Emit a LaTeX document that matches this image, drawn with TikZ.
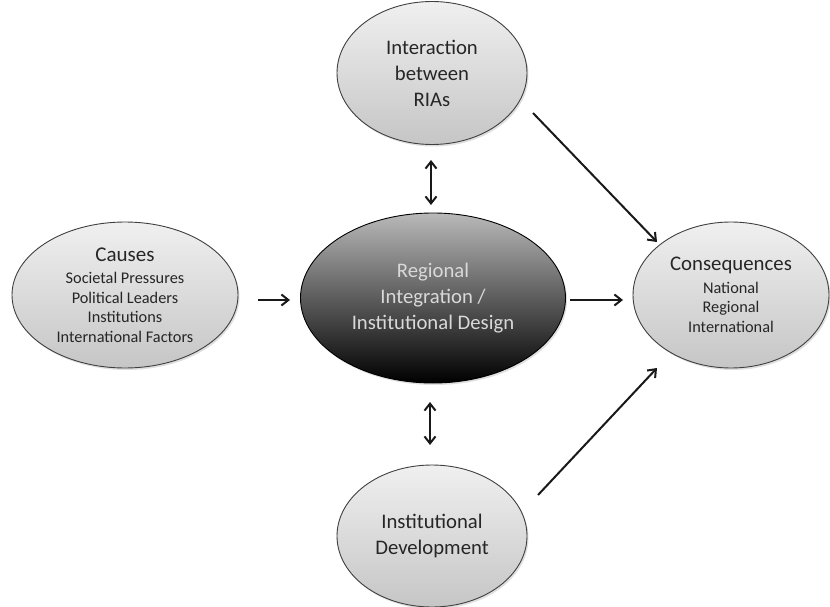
\documentclass[tikz,border=0pt]{standalone}
\usepackage{fontspec}
\setmainfont{Carlito}
\usetikzlibrary{shapes.geometric,arrows.meta,calc,shadows}
\begin{document}
\begin{tikzpicture}[x=1pt,y=-1pt,
  bubble/.style={ellipse,draw=black!75,line width=0.9pt,inner sep=0pt,
    top color=gray!12,bottom color=gray!45,
    drop shadow={opacity=0.25,shadow xshift=1.5pt,shadow yshift=-2pt},
    align=center,text=black!85},
  core/.style={ellipse,draw=black,line width=0.9pt,inner sep=0pt,
    top color=gray!55,bottom color=black,
    drop shadow={opacity=0.25,shadow xshift=1.5pt,shadow yshift=-2pt},
    align=center,text=gray!30},
  arr/.style={-{Straight Barb[length=7pt,width=11pt,line width=2pt]},line width=2pt,black!90},
  darr/.style={{Straight Barb[length=7pt,width=11pt,line width=2pt]}-{Straight Barb[length=7pt,width=11pt,line width=2pt]},line width=2pt,black!90},
  big/.style={font=\fontsize{20.7}{26}\selectfont},
  small/.style={font=\fontsize{16.3}{19.5}\selectfont}]
\useasboundingbox (0,0) rectangle (830,607);
\fill[white] (0,0) rectangle (830,607);

\node[bubble,big,minimum width=190pt,minimum height=143pt] (top) at (432,73)
  {Interaction\\between\\RIAs};
\node[bubble,small,minimum width=226pt,minimum height=146pt] (causes) at (125,295)
  {{\fontsize{21}{23}\selectfont Causes}\\[3pt]Societal Pressures\\Political Leaders\\Institutions\\International Factors};
\node[core,big,minimum width=265pt,minimum height=170pt] (core) at (433,298)
  {Regional\\Integration /\\Institutional Design};
\node[bubble,small,minimum width=196pt,minimum height=146pt] (cons) at (731,295)
  {{\fontsize{20.8}{22}\selectfont Consequences}\\[3pt]National\\Regional\\International};
\node[bubble,big,minimum width=190pt,minimum height=142pt] (bot) at (432,536)
  {Institutional\\Development};

\draw[arr] ($(causes.center)+(133,5)$) -- ($(core.center)+(-143,2)$);
\draw[arr] ($(core.center)+(137,2)$) -- ($(cons.center)+(-108,5)$);
\draw[darr] ($(top.center)+(-1,87)$) -- ($(core.center)+(-2,-93)$);
\draw[darr] ($(core.center)+(-3,104)$) -- ($(bot.center)+(-2,-91)$);
\draw[arr] ($(top.center)+(101,40)$) -- ($(cons.center)+(-74,-53)$);
\draw[arr] ($(bot.center)+(106,-41)$) -- ($(cons.center)+(-74,73)$);
\end{tikzpicture}
\end{document}
